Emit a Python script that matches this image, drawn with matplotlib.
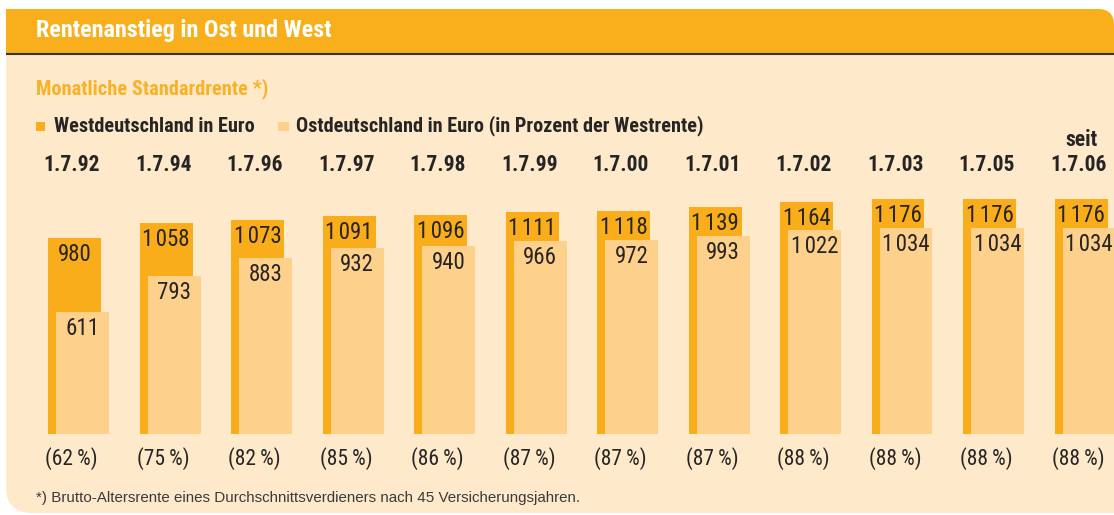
import matplotlib
matplotlib.use("Agg")
import matplotlib.pyplot as plt
from matplotlib.patches import FancyBboxPatch, Rectangle
from matplotlib.transforms import blended_transform_factory
from matplotlib import font_manager

# ---------------- data ----------------
dates = ["1.7.92", "1.7.94", "1.7.96", "1.7.97", "1.7.98", "1.7.99",
         "1.7.00", "1.7.01", "1.7.02", "1.7.03", "1.7.05", "1.7.06"]
west = [980, 1058, 1073, 1091, 1096, 1111, 1118, 1139, 1164, 1176, 1176, 1176]
east = [611, 793, 883, 932, 940, 966, 972, 993, 1022, 1034, 1034, 1034]
percent = [62, 75, 82, 85, 86, 87, 87, 87, 88, 88, 88, 88]

title = "Rentenanstieg in Ost und West"
subtitle = "Monatliche Standardrente *)"
legend_west = "Westdeutschland in Euro"
legend_east = "Ostdeutschland in Euro (in Prozent der Westrente)"
footnote = "*) Brutto-Altersrente eines Durchschnittsverdieners nach 45 Versicherungsjahren."

# ---------------- style ----------------
names = {f.name for f in font_manager.fontManager.ttflist}


def pick(cands):
    for c in cands:
        if c in names:
            return c
    return "DejaVu Sans"


COND = pick(["Roboto Condensed", "Fira Sans Condensed", "Archivo Narrow",
             "PT Sans Narrow", "Barlow Semi Condensed", "Pragati Narrow",
             "Liberation Sans Narrow", "Roboto"])
REG = pick(["Liberation Sans", "Arimo", "Roboto", "DejaVu Sans"])

C_TITLE = "#F9AF1C"
C_WEST = "#F9AD1B"
C_EAST = "#FDD18B"
C_BG = "#FEEACB"
C_SUB = "#F8B229"
C_TXT = "#262424"

W, H = 1114, 515
fig = plt.figure(figsize=(W / 100, H / 100), dpi=100)
fig.patch.set_facecolor("white")

# decoration axes in pixel coordinates (y down)
deco = fig.add_axes([0, 0, 1, 1])
deco.set_xlim(0, W)
deco.set_ylim(H, 0)
deco.axis("off")

# panel with rounded bottom-left corner
deco.add_patch(FancyBboxPatch((6, 40), W - 6 + 40, 513 - 40,
                              boxstyle="round,pad=0,rounding_size=26",
                              fc=C_BG, ec="none", zorder=0))
# title bar with rounded top-right
deco.add_patch(FancyBboxPatch((6, 9), W - 6, 60,
                              boxstyle="round,pad=0,rounding_size=16",
                              fc=C_TITLE, ec="none", zorder=1))
deco.add_patch(Rectangle((6, 53), W - 6, 30, fc=C_BG, ec="none", zorder=1.5))
deco.add_patch(Rectangle((6, 9), 40, 40, fc=C_TITLE, ec="none", zorder=1.2))
deco.plot([6, W], [53.5, 53.5], color="#333333", lw=1.5, zorder=2,
          solid_capstyle="butt")

deco.text(36, 31, title, color="white", fontsize=17.4, fontweight="bold",
          family=COND, va="center", ha="left", zorder=3)
deco.text(36, 89, subtitle, color=C_SUB, fontsize=14.7, fontweight="bold",
          family=COND, va="center", ha="left")

# legend
deco.add_patch(Rectangle((36, 122), 9, 9, fc=C_WEST, ec="none"))
deco.text(54, 126, legend_west, color=C_TXT, fontsize=14.6, fontweight="bold",
          family=COND, va="center", ha="left")
deco.add_patch(Rectangle((278, 122), 11, 9, fc=C_EAST, ec="none"))
deco.text(296, 126, legend_east, color=C_TXT, fontsize=14.6, fontweight="bold",
          family=COND, va="center", ha="left")

deco.text(36, 498, footnote, color="#3a3a3a", fontsize=10.9, family=REG,
          va="center", ha="left")

# ---------------- bar axes ----------------
step = 91.5          # px per category
x0 = 74.5            # px of first west bar center
base_px = 433.5      # px of zero line
ppu = 0.199          # px per euro
ymax = 1400
ax = fig.add_axes([0, (H - base_px) / H, 1, ymax * ppu / H])
ax.set_xlim(-x0 / step, (W - x0) / step)
ax.set_ylim(0, ymax)
ax.axis("off")
ax.patch.set_alpha(0)

n = len(dates)
xs = list(range(n))
bw = 53 / step
off = 8 / step
ax.bar(xs, west, width=bw, color=C_WEST, zorder=2)
ax.bar([x + off for x in xs], east, width=bw, color=C_EAST, zorder=3)


def fmt(v):
    s = str(v)
    return s[0] + "\u200a" + s[1:] if v >= 1000 else s


for x, w_, e_ in zip(xs, west, east):
    ax.text(x, w_ - 82, fmt(w_), ha="center", va="center", fontsize=16.5,
            family=COND, color=C_TXT, zorder=4)
    ax.text(x + off, e_ - 82, fmt(e_), ha="center", va="center", fontsize=16.5,
            family=COND, color=C_TXT, zorder=4)

tr = blended_transform_factory(ax.transData, deco.transData)
for x, d, p in zip(xs, dates, percent):
    ax.text(x - 0.03, 165, d, transform=tr, ha="center", va="center",
            fontsize=15.5, fontweight="bold", family=COND, color=C_TXT)
    ax.text(x - 0.03, 459, f"({p}\u2009%)", transform=tr, ha="center",
            va="center", fontsize=15.5, family=COND, color=C_TXT)
ax.text(xs[-1], 140, "seit", transform=tr, ha="center", va="center",
        fontsize=15.5, fontweight="bold", family=COND, color=C_TXT)

fig.savefig("out.png", dpi=100, facecolor=fig.get_facecolor())
